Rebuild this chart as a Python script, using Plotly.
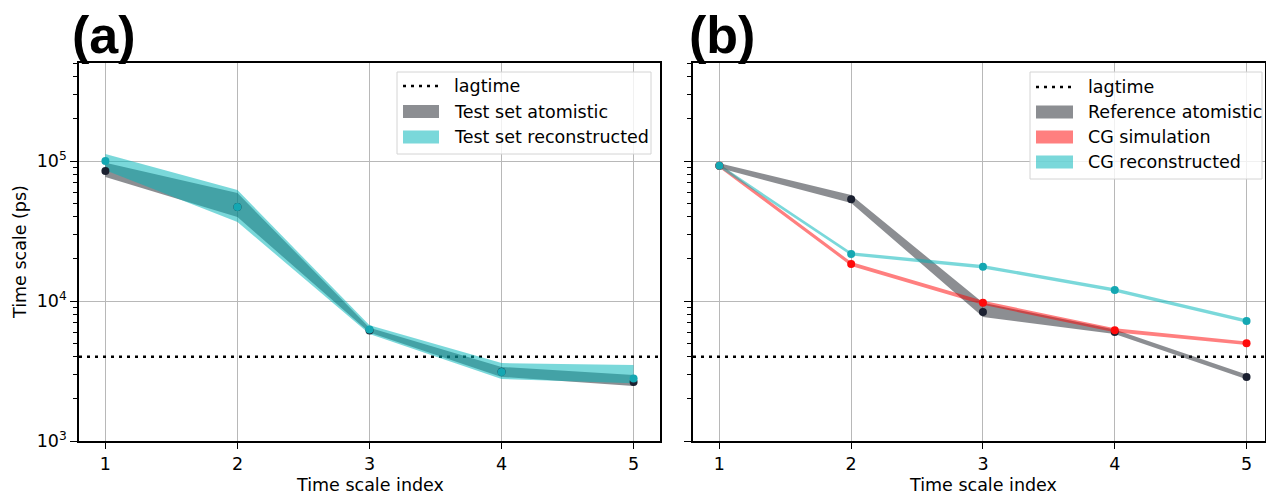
import plotly.graph_objects as go

# ---------------- data ----------------
idx = [1, 2, 3, 4, 5]
lagtime = 4000

# panel (a)
a_atom_mean = [85000, 47000, 6150, 3120, 2640]
a_atom_lo = [77000, 39800, 5950, 2870, 2470]
a_atom_hi = [97000, 59000, 6450, 3380, 2960]
a_rec_mean = [100000, 46900, 6250, 3110, 2790]
a_rec_lo = [86000, 36700, 5800, 2770, 2590]
a_rec_hi = [112000, 62000, 6700, 3600, 3490]

# panel (b)
b_atom_mean = [92500, 53300, 8340, 6000, 2870]
b_atom_lo = [89000, 50100, 7700, 5800, 2760]
b_atom_hi = [96500, 57200, 9700, 6250, 2980]
b_sim_mean = [92500, 18400, 9720, 6180, 4990]
b_sim_lo = [89500, 17800, 9400, 5980, 4840]
b_sim_hi = [95500, 19000, 10050, 6380, 5140]
b_rec_mean = [92500, 21700, 17600, 11990, 7200]
b_rec_lo = [90000, 21100, 17100, 11650, 7000]
b_rec_hi = [95000, 22300, 18100, 12330, 7400]

ytick_vals = [1e3, 1e4, 1e5]
ytick_text = ["10<sup>3</sup>", "10<sup>4</sup>", "10<sup>5</sup>"]
minor_vals = [m * d for d in (1e3, 1e4, 1e5) for m in range(2, 10)]

legend_a = ["lagtime", "Test set atomistic", "Test set reconstructed"]
legend_b = ["lagtime", "Reference atomistic", "CG simulation", "CG reconstructed"]

GRAY = "rgba(25,30,38,0.5)"
CYAN = "rgba(0,180,185,0.52)"
RED = "rgba(255,0,0,0.5)"
DOT_BLACK = "#1b2030"
DOT_CYAN = "#14a7b2"
DOT_RED = "#ff0a0a"
FONT = "DejaVu Sans"
FS = 17.5

W, H = 1266, 494


def px(x):
    return x / W


def py(y):
    return 1 - y / H


def band(x, lo, hi, color, name, xa, ya):
    return go.Scatter(
        x=list(x) + list(x)[::-1],
        y=list(hi) + list(lo)[::-1],
        fill="toself", fillcolor=color, mode="lines",
        line=dict(width=0, color=color), name=name,
        xaxis=xa, yaxis=ya, showlegend=False, hoverinfo="skip",
    )


def dots(x, y, color, xa, ya):
    return go.Scatter(
        x=x, y=y, mode="markers", marker=dict(size=8, color=color),
        showlegend=False, xaxis=xa, yaxis=ya,
    )


def lag(xa, ya):
    return go.Scatter(
        x=[0.8, 5.2], y=[lagtime, lagtime], mode="lines",
        line=dict(color="black", width=2.5, dash="3px,5px"),
        name="lagtime", xaxis=xa, yaxis=ya, showlegend=False,
    )


fig = go.Figure()
# panel a
fig.add_trace(lag("x", "y"))
fig.add_trace(band(idx, a_atom_lo, a_atom_hi, GRAY, legend_a[1], "x", "y"))
fig.add_trace(band(idx, a_rec_lo, a_rec_hi, CYAN, legend_a[2], "x", "y"))
fig.add_trace(dots(idx, a_atom_mean, DOT_BLACK, "x", "y"))
fig.add_trace(dots(idx, a_rec_mean, DOT_CYAN, "x", "y"))
# panel b
fig.add_trace(lag("x2", "y2"))
fig.add_trace(band(idx, b_atom_lo, b_atom_hi, GRAY, legend_b[1], "x2", "y2"))
fig.add_trace(band(idx, b_sim_lo, b_sim_hi, RED, legend_b[2], "x2", "y2"))
fig.add_trace(band(idx, b_rec_lo, b_rec_hi, CYAN, legend_b[3], "x2", "y2"))
fig.add_trace(dots(idx, b_atom_mean, DOT_BLACK, "x2", "y2"))
fig.add_trace(dots(idx, b_sim_mean, DOT_RED, "x2", "y2"))
fig.add_trace(dots(idx, b_rec_mean, DOT_CYAN, "x2", "y2"))

top = py(63)
bot = py(441)

xcommon = dict(
    tickvals=idx, ticks="outside", ticklen=6, tickwidth=1.2, tickcolor="black",
    showline=True, linecolor="black", linewidth=1.5, mirror=True,
    showgrid=True, gridcolor="#b8b8b8", gridwidth=1, zeroline=False,
    tickfont=dict(family=FONT, size=FS, color="black"),
    automargin=False,
)
ycommon = dict(
    type="log", range=[3, 5.7], tickvals=ytick_vals, ticks="outside", ticklen=7,
    tickwidth=1.2, tickcolor="black",
    minor=dict(tickvals=minor_vals, ticks="outside", ticklen=4, tickcolor="black", showgrid=False),
    showline=True, linecolor="black", linewidth=1.5, mirror=True,
    showgrid=True, gridcolor="#b8b8b8", gridwidth=1, zeroline=False,
    tickfont=dict(family=FONT, size=FS, color="black"),
    domain=[bot, top], automargin=False,
)

xa = dict(xcommon, domain=[px(79), px(660)], range=[0.8, 5.2], anchor="y")
xb = dict(xcommon, domain=[px(693), px(1265)], range=[0.8, 5.14], anchor="y2")
ya = dict(ycommon, ticktext=ytick_text, anchor="x")
yb = dict(ycommon, showticklabels=False, anchor="x2")

shapes = []
annotations = [
    dict(text="<b>(a)</b>", x=px(70), y=py(35), xref="paper", yref="paper",
         xanchor="left", yanchor="middle", showarrow=False,
         font=dict(family="Liberation Sans", size=52, color="black")),
    dict(text="<b>(b)</b>", x=px(687), y=py(35), xref="paper", yref="paper",
         xanchor="left", yanchor="middle", showarrow=False,
         font=dict(family="Liberation Sans", size=52, color="black")),
    dict(text="Time scale (ps)", x=px(20), y=(bot + top) / 2, xref="paper", yref="paper",
         xanchor="center", yanchor="middle", showarrow=False, textangle=-90,
         font=dict(family=FONT, size=FS, color="black")),
    dict(text="Time scale index", x=px(370), y=py(485), xref="paper", yref="paper",
         xanchor="center", yanchor="middle", showarrow=False,
         font=dict(family=FONT, size=FS, color="black")),
    dict(text="Time scale index", x=px(983), y=py(485), xref="paper", yref="paper",
         xanchor="center", yanchor="middle", showarrow=False,
         font=dict(family=FONT, size=FS, color="black")),
]


def add_legend(labels, colors, box, patch_x, text_x, row_y):
    x0, y0, x1, y1 = box
    shapes.append(dict(type="rect", xref="paper", yref="paper",
                       x0=px(x0), x1=px(x1), y0=py(y1), y1=py(y0),
                       fillcolor="rgba(255,255,255,0.8)",
                       line=dict(color="#d4d4d4", width=1), layer="above"))
    for i, (lab, col) in enumerate(zip(labels, colors)):
        yc = row_y[i]
        if col is None:
            shapes.append(dict(type="line", xref="paper", yref="paper",
                               x0=px(patch_x[0]), x1=px(patch_x[1]), y0=py(yc), y1=py(yc),
                               line=dict(color="black", width=2.5, dash="3px,5px"),
                               layer="above"))
        else:
            shapes.append(dict(type="rect", xref="paper", yref="paper",
                               x0=px(patch_x[0]), x1=px(patch_x[1]),
                               y0=py(yc + 6.5), y1=py(yc - 6.5),
                               fillcolor=col, line=dict(width=0), layer="above"))
        annotations.append(dict(text=lab, x=px(text_x), y=py(yc), xref="paper", yref="paper",
                                xanchor="left", yanchor="middle", showarrow=False,
                                font=dict(family=FONT, size=FS, color="black")))


add_legend(legend_a, [None, GRAY, CYAN], (397, 72, 651, 154), (403, 439), 452,
           [86, 111.5, 137])
add_legend(legend_b, [None, GRAY, RED, CYAN], (1030, 72, 1262, 179), (1036, 1073), 1086,
           [87, 112, 137, 162])

fig.update_layout(
    width=W, height=H, margin=dict(l=0, r=0, t=0, b=0, autoexpand=False),
    paper_bgcolor="white", plot_bgcolor="white",
    xaxis=xa, xaxis2=xb, yaxis=ya, yaxis2=yb,
    showlegend=False,
    shapes=shapes, annotations=annotations,
)

fig.write_html(
    "out.html",
    config={"displayModeBar": False},
    post_script="document.body.style.margin='0';document.documentElement.style.overflow='hidden';",
)
